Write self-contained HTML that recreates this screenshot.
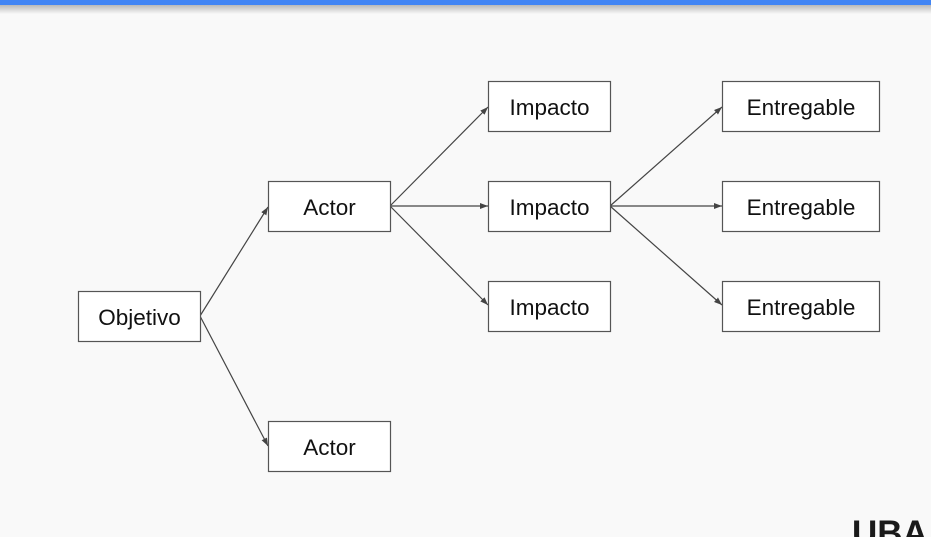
<!DOCTYPE html>
<html><head><meta charset="utf-8"><style>
html,body{margin:0;padding:0;width:931px;height:537px;overflow:hidden;background:#f9f9f9}
</style></head><body>
<svg width="931" height="537" xmlns="http://www.w3.org/2000/svg" style="display:block">
<defs>
<linearGradient id="sh" x1="0" y1="0" x2="0" y2="1">
<stop offset="0" stop-color="#b8b8b8"/><stop offset="1" stop-color="#f9f9f9"/>
</linearGradient>
<marker id="a" markerWidth="8" markerHeight="6" refX="8" refY="3" orient="auto" markerUnits="userSpaceOnUse">
<path d="M0,0 L8,3 L0,6 z" fill="#444"/>
</marker>
</defs>
<rect x="0" y="0" width="931" height="537" fill="#f9f9f9"/>
<rect x="0" y="5" width="931" height="9" fill="url(#sh)"/>
<rect x="0" y="0" width="931" height="5" fill="#4285f4"/>
<g stroke="#444" stroke-width="1.2" fill="none" marker-end="url(#a)">
<line x1="200" y1="316" x2="268" y2="207"/>
<line x1="200" y1="316" x2="268" y2="446"/>
<line x1="390" y1="206" x2="488" y2="107"/>
<line x1="390" y1="206" x2="488" y2="206"/>
<line x1="390" y1="206" x2="488" y2="305"/>
<line x1="610" y1="206" x2="722" y2="107"/>
<line x1="610" y1="206" x2="722" y2="206"/>
<line x1="610" y1="206" x2="722" y2="305"/>
</g>
<g fill="#fff" stroke="#555" stroke-width="1.2">
<rect x="78.5" y="291.5" width="122" height="50"/>
<rect x="268.5" y="181.5" width="122" height="50"/>
<rect x="268.5" y="421.5" width="122" height="50"/>
<rect x="488.5" y="81.5" width="122" height="50"/>
<rect x="488.5" y="181.5" width="122" height="50"/>
<rect x="488.5" y="281.5" width="122" height="50"/>
<rect x="722.5" y="81.5" width="157" height="50"/>
<rect x="722.5" y="181.5" width="157" height="50"/>
<rect x="722.5" y="281.5" width="157" height="50"/>
</g>
<g font-family="Liberation Sans, sans-serif" font-size="22.5" fill="#111" text-anchor="middle">
<text x="139.5" y="325">Objetivo</text>
<text x="329.5" y="215">Actor</text>
<text x="329.5" y="455">Actor</text>
<text x="549.5" y="115">Impacto</text>
<text x="549.5" y="215">Impacto</text>
<text x="549.5" y="315">Impacto</text>
<text x="801" y="115">Entregable</text>
<text x="801" y="215">Entregable</text>
<text x="801" y="315">Entregable</text>
</g>
<text x="852" y="545" font-family="Liberation Sans, sans-serif" font-size="35" font-weight="bold" fill="#1a1a1a">UBA</text>
</svg>
</body></html>
